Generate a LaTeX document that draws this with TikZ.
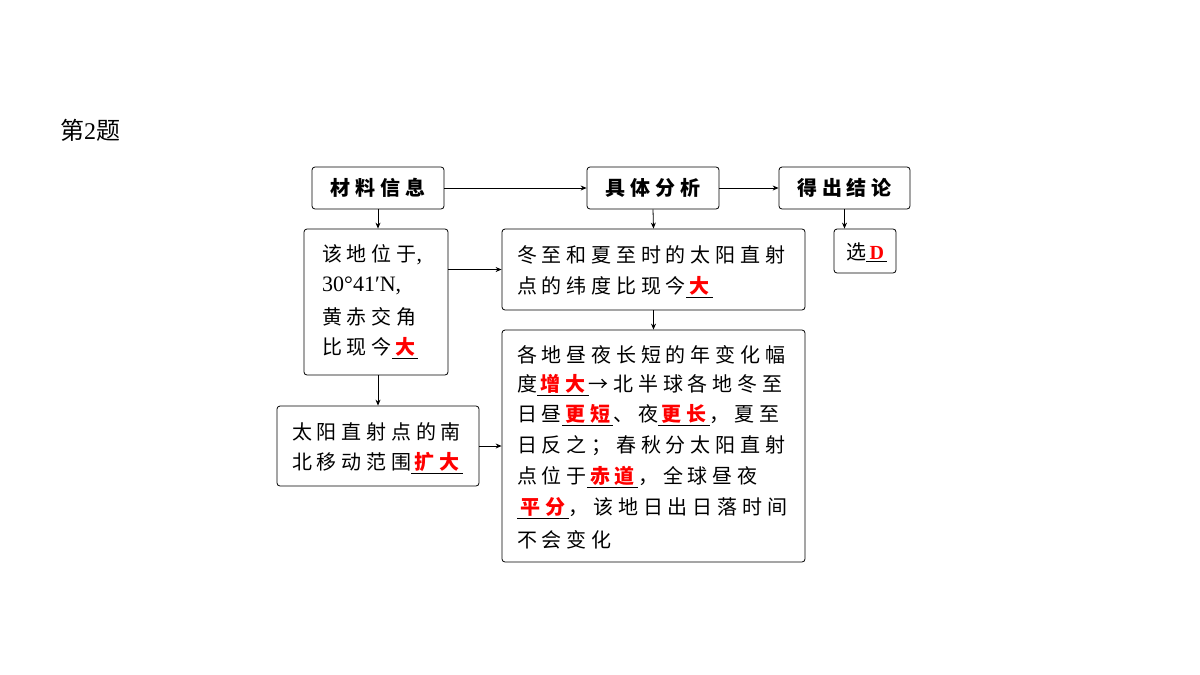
\documentclass[tikz,border=0pt]{standalone}
\usepackage{fontspec}
\setmainfont{Liberation Serif}
\newfontfamily\cjk[LetterSpace=24]{Noto Sans CJK SC}
\usetikzlibrary{positioning,arrows.meta}
\newcommand{\ans}[1]{\underline{\,\textcolor{red}{\bfseries #1}\,}}
\tikzset{
  box/.style={draw, rounded corners=3pt, thick},
  head/.style={box, font=\cjk\bfseries\fontsize{20}{22}\selectfont},
  line/.style={anchor=west, inner sep=0pt, font=\cjk\fontsize{20}{22}\selectfont},
  arr/.style={-{Stealth[length=6pt,width=5pt]}, thick}
}
\begin{document}
\begin{tikzpicture}[x=1pt,y=-1pt]
    \useasboundingbox (0,0) rectangle (1200,675);
    \node[anchor=west, inner sep=0pt, font=\cjk\fontsize{24}{26}\selectfont] (title) at (60,130) {第{\rmfamily 2}题};

    % headers
    \node[head, minimum width=132pt, minimum height=42pt] (src) at (378,188) {材料信息};
    \node[head, minimum width=132pt, minimum height=42pt] (ana) at (653,188) {具体分析};
    \node[head, minimum width=131pt, minimum height=42pt] (res) at (844.5,188) {得出结论};

    % boxes
    \node[box, minimum width=144pt, minimum height=146pt] (info) at (376,302) {};
    \node[box, minimum width=303pt, minimum height=81pt] (lat) at (653.5,269.5) {};
    \node[box, minimum width=62pt, minimum height=44pt] (sel) at (865,251) {};
    \node[box, minimum width=202pt, minimum height=80pt] (move) at (378,446) {};
    \node[box, minimum width=303pt, minimum height=232pt] (day) at (653.5,446) {};

    % texts
    \node[line] (i1) at (322,255) {该地位于{\rmfamily\fontsize{22}{24}\selectfont ,}};
    \node[line] (i2) at (322,286) {\rmfamily\fontsize{22}{24}\selectfont 30°41′N,};
    \node[line] (i3) at (322,317) {黄赤交角};
    \node[line] (i4) at (322,348) {比现今\ans{大}};
    \node[line] (l1) at (517,255) {冬至和夏至时的太阳直射};
    \node[line] (l2) at (517,287) {点的纬度比现今\ans{大}};
    \node[line] (s1) at (846,252) {选\ans{\rmfamily D}};
    \node[line] (m1) at (292,432) {太阳直射点的南};
    \node[line] (m2) at (292,463) {北移动范围\ans{扩大}};
    \node[line] (d1) at (517,355) {各地昼夜长短的年变化幅};
    \node[line] (d2) at (517,385) {度\ans{增大}→北半球各地冬至};
    \node[line] (d3) at (517,415) {日昼\ans{更短}、夜\ans{更长}，夏至};
    \node[line] (d4) at (517,446) {日反之；春秋分太阳直射};
    \node[line] (d5) at (517,477) {点位于\ans{赤道}，全球昼夜};
    \node[line] (d6) at (517,508) {\ans{平分}，该地日出日落时间};
    \node[line] (d7) at (517,540) {不会变化};

    % arrows
    \draw[arr] (src) -- (ana);
    \draw[arr] (ana) -- (res);
    \draw[arr] (src.south) -- (info.north -| src);
    \draw[arr] (ana.south) -- (lat.north);
    \draw[arr] (res.south) -- (sel.north -| res);
    \draw[arr] (info.east |- lat) -- (lat.west);
    \draw[arr] (lat.south) -- (day.north);
    \draw[arr] (info.south -| move) -- (move.north);
    \draw[arr] (move.east) -- (day.west);
\end{tikzpicture}
\end{document}
